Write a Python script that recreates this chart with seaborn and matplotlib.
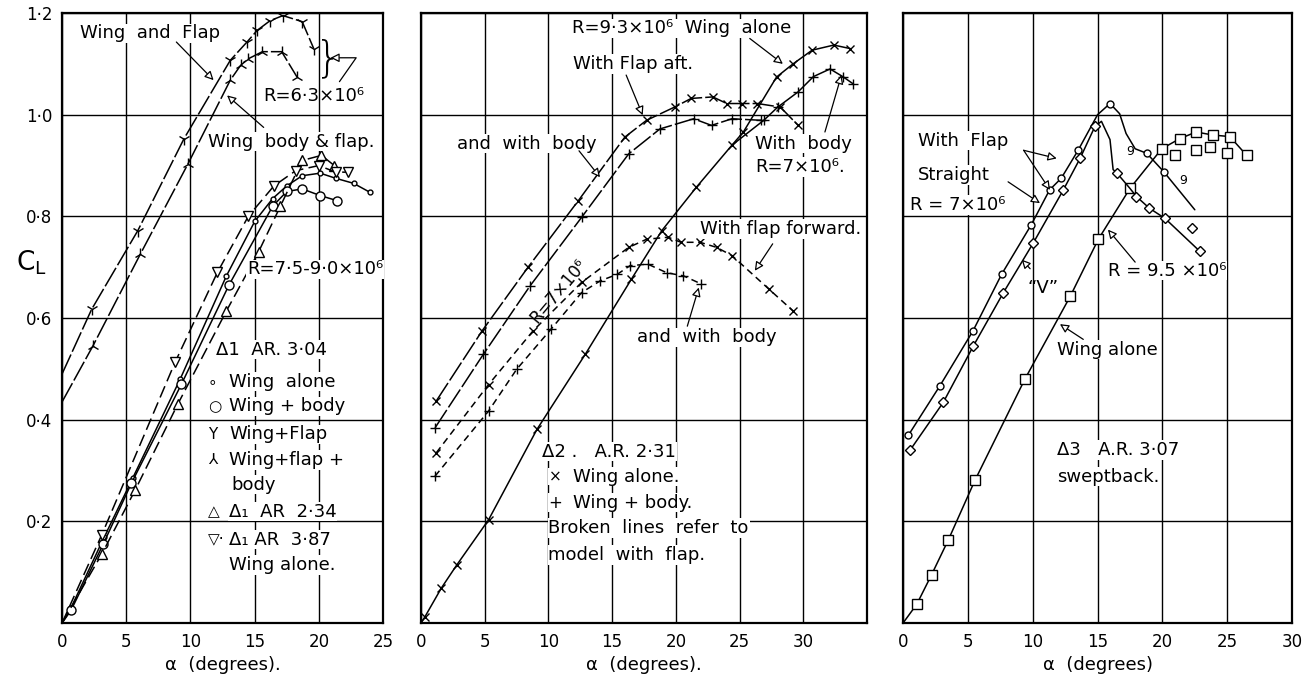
import numpy as np
import pandas as pd
import matplotlib.pyplot as plt
import seaborn as sns

sns.set_theme(style="white")
plt.rcParams['font.family'] = ['DejaVu Sans']
plt.rcParams['text.color'] = 'black'
plt.rcParams['axes.labelcolor'] = 'black'
plt.rcParams['xtick.color'] = 'black'
plt.rcParams['ytick.color'] = 'black'

# ---------------- panel 1 : delta 1, AR 3.04 ----------------
p1_flap_a = [0, 2.3, 5.9, 9.5, 13.1, 14.4, 15.2, 16.2, 17.2, 18.7, 19.6]
p1_flap_cl = [0.49, 0.617, 0.772, 0.953, 1.107, 1.143, 1.166, 1.185, 1.195, 1.183, 1.13]
p1_flapbody_a = [0, 2.4, 6.1, 9.8, 13.1, 13.9, 14.5, 15.6, 17.1, 18.3]
p1_flapbody_cl = [0.435, 0.545, 0.726, 0.903, 1.068, 1.097, 1.11, 1.124, 1.124, 1.074]
p1_wing_a = [0, 0.7, 3.3, 5.5, 9.2, 12.8, 15.0, 16.4, 17.5, 18.7, 20.1, 21.3, 22.7, 24.0]
p1_wing_cl = [0, 0.03, 0.17, 0.285, 0.48, 0.683, 0.79, 0.835, 0.86, 0.88, 0.885, 0.875, 0.865, 0.847]
p1_body_a = [0, 0.7, 3.2, 5.4, 9.3, 13.0, 16.4, 17.5, 18.7, 20.1, 21.4]
p1_body_cl = [0, 0.025, 0.155, 0.275, 0.47, 0.665, 0.82, 0.849, 0.854, 0.841, 0.831]
p1_ar234_a = [0, 3.1, 5.7, 9.0, 12.8, 15.3, 17.0, 18.7, 20.2, 21.2]
p1_ar234_cl = [0, 0.136, 0.262, 0.43, 0.614, 0.73, 0.82, 0.91, 0.92, 0.90]
p1_ar387_a = [0, 3.1, 8.8, 12.1, 14.5, 16.5, 18.2, 20.0, 21.3, 22.3]
p1_ar387_cl = [0, 0.174, 0.513, 0.69, 0.80, 0.86, 0.89, 0.90, 0.887, 0.887]

# ---------------- panel 2 : delta 2, AR 2.31 ----------------
p2_wing_a = [0, 0.3, 1.6, 2.8, 5.3, 9.1, 12.9, 16.5, 18.9, 21.6, 24.4, 25.3, 27.9, 29.2, 30.7, 32.4, 33.7]
p2_wing_cl = [0, 0.012, 0.069, 0.114, 0.203, 0.381, 0.529, 0.676, 0.772, 0.857, 0.94, 0.966, 1.074, 1.10, 1.127, 1.137, 1.13]
p2_body_a = [24.4, 26.9, 28.0, 29.6, 30.8, 32.1, 33.1, 33.9]
p2_body_cl = [0.94, 0.989, 1.015, 1.045, 1.075, 1.09, 1.075, 1.061]
p2_aft_a = [1.2, 4.8, 8.4, 12.35, 16.0, 17.7, 19.9, 21.2, 22.9, 24.0, 25.2, 26.4, 28.2, 29.6]
p2_aft_cl = [0.437, 0.575, 0.70, 0.831, 0.956, 0.989, 1.015, 1.032, 1.035, 1.022, 1.022, 1.022, 1.015, 0.979]
p2_aftbody_a = [1.1, 4.9, 8.55, 12.6, 16.3, 18.75, 21.4, 22.8, 24.4, 26.7]
p2_aftbody_cl = [0.384, 0.529, 0.663, 0.798, 0.923, 0.972, 0.992, 0.979, 0.992, 0.989]
p2_fwd_a = [1.2, 5.3, 8.8, 12.6, 16.3, 17.7, 19.4, 20.4, 21.9, 23.2, 24.4, 27.3, 29.2]
p2_fwd_cl = [0.335, 0.469, 0.575, 0.67, 0.739, 0.755, 0.759, 0.749, 0.749, 0.739, 0.723, 0.657, 0.614]
p2_fwdbody_a = [1.1, 5.3, 7.5, 10.2, 12.6, 14.05, 15.4, 16.4, 17.8, 19.3, 20.6, 22.0]
p2_fwdbody_cl = [0.289, 0.417, 0.499, 0.578, 0.65, 0.673, 0.686, 0.703, 0.706, 0.689, 0.683, 0.667]

# ---------------- panel 3 : delta 3, AR 3.07 sweptback ----------------
p3_wing_a = [0, 1.06, 2.2, 3.5, 5.55, 9.4, 12.9, 15.06, 17.5, 19.95, 21.35, 22.6, 23.9, 25.2, 26.5]
p3_wing_cl = [0, 0.037, 0.095, 0.164, 0.281, 0.48, 0.643, 0.755, 0.855, 0.933, 0.953, 0.966, 0.96, 0.957, 0.92]
p3_extra_a = [21.0, 22.6, 23.7, 25.0]
p3_extra_cl = [0.92, 0.93, 0.937, 0.924]
p3_flap_a = [0.4, 2.85, 5.4, 7.6, 9.9, 11.3, 12.2, 13.5, 15.0, 15.96, 16.7, 17.2, 17.9, 18.8, 20.1, 22.5]
p3_flap_cl = [0.369, 0.467, 0.575, 0.686, 0.784, 0.852, 0.875, 0.93, 1.0, 1.022, 1.002, 0.963, 0.933, 0.924, 0.888, 0.813]
p3_vee_a = [0.54, 3.1, 5.42, 7.74, 10.05, 12.36, 13.65, 14.8, 15.3, 15.96, 16.2, 16.5, 17.5, 18.0, 19.0, 20.2, 22.9]
p3_vee_cl = [0.34, 0.434, 0.545, 0.65, 0.748, 0.852, 0.914, 0.977, 0.987, 0.951, 0.892, 0.885, 0.855, 0.839, 0.816, 0.796, 0.731]
p3_vee_extra_a = [22.3]
p3_vee_extra_cl = [0.777]

y_ticks = [0, 0.2, 0.4, 0.6, 0.8, 1.0, 1.2]
y_labels = ['', '0·2', '0·4', '0·6', '0·8', '1·0', '1·2']

LONG = (0, (14, 2))
MID = (0, (8, 3.5))
SHORT = (0, (4.5, 3))
FS = 13


def curve(ax, a, cl, marker, ms, ls='-', every=None):
    sns.lineplot(x=a, y=cl, ax=ax, color='black', linewidth=1.1, linestyle=ls,
                 marker=marker, markersize=ms, markerfacecolor='white',
                 markeredgecolor='black', markeredgewidth=1.0,
                 markevery=every, sort=False, estimator=None)


def pts(ax, a, cl, marker, ms):
    sns.lineplot(x=a, y=cl, ax=ax, color='black', linestyle='none',
                 marker=marker, markersize=ms, markerfacecolor='white',
                 markeredgecolor='black', markeredgewidth=1.0,
                 sort=False, estimator=None)


def note(ax, x, y, s, **kw):
    opts = dict(fontsize=FS, va='center', ha='left', color='black',
                bbox=dict(fc='white', ec='none', pad=0.5))
    opts.update(kw)
    ax.text(x, y, s, **opts)


def arrow(ax, tail, head, cs='arc3'):
    ax.annotate('', xy=head, xytext=tail,
                arrowprops=dict(arrowstyle='-|>', fc='white', ec='black', lw=0.9,
                                mutation_scale=13, shrinkA=0, shrinkB=0,
                                connectionstyle=cs))


fig = plt.figure(figsize=(13.12, 6.83), dpi=100)
ax1 = fig.add_axes([0.0473, 0.0878, 0.2447, 0.8931])
ax2 = fig.add_axes([0.3209, 0.0878, 0.3399, 0.8931])
ax3 = fig.add_axes([0.6883, 0.0878, 0.2965, 0.8931])

for ax, xmax, xt_lab in [(ax1, 25, ['0', '5', '10', '15', '20', '25']),
                         (ax2, 35, ['0', '5', '10', '15', '20', '25', '30', '']),
                         (ax3, 30, ['0', '5', '10', '15', '20', '25', '30'])]:
    ax.set_xlim(0, xmax)
    ax.set_ylim(0, 1.2)
    ax.set_xticks(np.arange(0, xmax + 1, 5))
    ax.set_xticklabels(xt_lab)
    ax.set_yticks(y_ticks)
    ax.set_yticklabels(y_labels if ax is ax1 else [''] * len(y_ticks))
    ax.grid(True, color='black', linewidth=1.0)
    ax.set_axisbelow(True)
    ax.tick_params(length=0, labelsize=12, pad=7, colors='black')
    for sp in ax.spines.values():
        sp.set_color('black')
        sp.set_linewidth(1.6)

# ---- panel 1 curves ----
curve(ax1, p1_flap_a, p1_flap_cl, '1', 9, LONG, every=slice(1, None))
curve(ax1, p1_flapbody_a, p1_flapbody_cl, '2', 9, LONG, every=slice(1, None))
curve(ax1, p1_wing_a, p1_wing_cl, 'o', 3.5, '-', every=slice(1, None))
curve(ax1, p1_body_a, p1_body_cl, 'o', 6.5, '-', every=slice(1, None))
curve(ax1, p1_ar234_a, p1_ar234_cl, '^', 7, MID, every=slice(1, None))
curve(ax1, p1_ar387_a, p1_ar387_cl, 'v', 7, MID, every=slice(1, None))

note(ax1, 1.4, 1.16, 'Wing  and  Flap')
arrow(ax1, (8.9, 1.143), (11.8, 1.068))
note(ax1, 11.4, 0.947, 'Wing  body & flap.')
arrow(ax1, (15.7, 0.975), (12.85, 1.038))
note(ax1, 15.65, 1.037, 'R=6·3×10⁶', bbox=None)
ax1.text(19.7, 1.11, '}', fontsize=30, va='center', ha='left', fontweight='light')
arrow(ax1, (21.6, 1.065), (20.9, 1.112), cs='angle,angleA=55,angleB=0,rad=0')
note(ax1, 14.4, 0.696, 'R=7·5-9·0×10⁶')

legend1_y = [0.538, 0.475, 0.426, 0.371, 0.321, 0.272, 0.219, 0.164, 0.114]
note(ax1, 12.0, legend1_y[0], 'Δ1  AR. 3·04')
for sym, txt, y in [('∘', 'Wing  alone', legend1_y[1]),
                    ('○', 'Wing + body', legend1_y[2]),
                    ('Y', 'Wing+Flap', legend1_y[3]),
                    ('⅄', 'Wing+flap +', legend1_y[4]),
                    ('', 'body', legend1_y[5]),
                    ('△', 'Δ₁  AR  2·34', legend1_y[6]),
                    ('▽·', 'Δ₁ AR  3·87', legend1_y[7]),
                    ('', 'Wing alone.', legend1_y[8])]:
    if sym:
        note(ax1, 11.35, y, sym, fontsize=11)
    note(ax1, 13.0 if txt != 'body' else 13.2, y, txt)

ax1.set_xlabel('α  (degrees).', fontsize=FS, labelpad=4)
ax1.set_ylabel('')
fig.text(0.012, 0.616, r'C$_{\mathrm{L}}$', fontsize=19, va='center', color='black')

# ---- panel 2 curves ----
curve(ax2, p2_wing_a, p2_wing_cl, 'x', 6, '-', every=slice(1, None))
curve(ax2, p2_body_a, p2_body_cl, '+', 7, '-', every=slice(1, None))
curve(ax2, p2_aft_a, p2_aft_cl, 'x', 6, LONG)
curve(ax2, p2_aftbody_a, p2_aftbody_cl, '+', 7, LONG)
curve(ax2, p2_fwd_a, p2_fwd_cl, 'x', 6, SHORT)
curve(ax2, p2_fwdbody_a, p2_fwdbody_cl, '+', 7, SHORT)

note(ax2, 11.85, 1.17, 'R=9·3×10⁶  Wing  alone')
arrow(ax2, (25.8, 1.15), (28.4, 1.10))
note(ax2, 11.9, 1.10, 'With Flap aft.')
arrow(ax2, (16.1, 1.078), (17.4, 0.999))
note(ax2, 2.8, 0.943, 'and  with  body')
arrow(ax2, (12.4, 0.929), (14.05, 0.877))
note(ax2, 26.2, 0.943, 'With  body')
note(ax2, 26.2, 0.897, 'R=7×10⁶.')
arrow(ax2, (31.7, 0.966), (33.0, 1.078))
note(ax2, 21.9, 0.775, 'With flap forward.')
arrow(ax2, (27.6, 0.746), (26.2, 0.693))
note(ax2, 16.95, 0.562, 'and  with  body')
arrow(ax2, (20.9, 0.584), (21.8, 0.66))
ax2.text(10.8, 0.654, 'R=7×10⁶', fontsize=12, rotation=50, ha='center', va='center',
         color='black')

note(ax2, 9.5, 0.337, 'Δ2 .   A.R. 2·31')
note(ax2, 10.0, 0.288, '×', fontsize=11)
note(ax2, 11.9, 0.288, 'Wing alone.')
note(ax2, 10.0, 0.237, '+', fontsize=12)
note(ax2, 11.9, 0.237, 'Wing + body.')
note(ax2, 10.0, 0.187, 'Broken  lines  refer  to')
note(ax2, 10.0, 0.134, 'model  with  flap.')

ax2.set_xlabel('α  (degrees).', fontsize=FS, labelpad=4)
ax2.set_ylabel('')

# ---- panel 3 curves ----
curve(ax3, p3_wing_a, p3_wing_cl, 's', 6.5, '-', every=slice(1, None))
pts(ax3, p3_extra_a, p3_extra_cl, 's', 6.5)
curve(ax3, p3_flap_a, p3_flap_cl, 'o', 5, '-', every=[0, 1, 2, 3, 4, 5, 6, 7, 9, 13, 14])
curve(ax3, p3_vee_a, p3_vee_cl, 'D', 5.5, '-', every=[0, 1, 2, 3, 4, 5, 6, 7, 11, 13, 14, 15, 16])
pts(ax3, p3_vee_extra_a, p3_vee_extra_cl, 'D', 5.5)

note(ax3, 1.15, 0.949, 'With  Flap')
note(ax3, 1.15, 0.881, 'Straight')
note(ax3, 0.55, 0.822, 'R = 7×10⁶')
arrow(ax3, (9.3, 0.93), (11.85, 0.914))
arrow(ax3, (9.3, 0.93), (11.33, 0.852))
arrow(ax3, (8.1, 0.868), (10.56, 0.826))
note(ax3, 9.6, 0.66, '“V”', bbox=None)
arrow(ax3, (9.8, 0.697), (9.15, 0.715))
note(ax3, 15.8, 0.693, 'R = 9.5 ×10⁶')
arrow(ax3, (17.9, 0.71), (15.8, 0.774))
note(ax3, 11.9, 0.538, 'Wing alone')
arrow(ax3, (13.9, 0.558), (12.1, 0.588))
note(ax3, 11.9, 0.34, 'Δ3   A.R. 3·07')
note(ax3, 11.9, 0.288, 'sweptback.')
ax3.text(17.5, 0.927, '9', fontsize=9, ha='center', va='center', color='black')
ax3.text(21.6, 0.871, '9', fontsize=9, ha='center', va='center', color='black')

ax3.set_xlabel('α  (degrees)', fontsize=FS, labelpad=4)
ax3.set_ylabel('')

for ax in (ax1, ax2, ax3):
    leg = ax.get_legend()
    if leg is not None:
        leg.remove()

fig.savefig('out.png', dpi=100)
